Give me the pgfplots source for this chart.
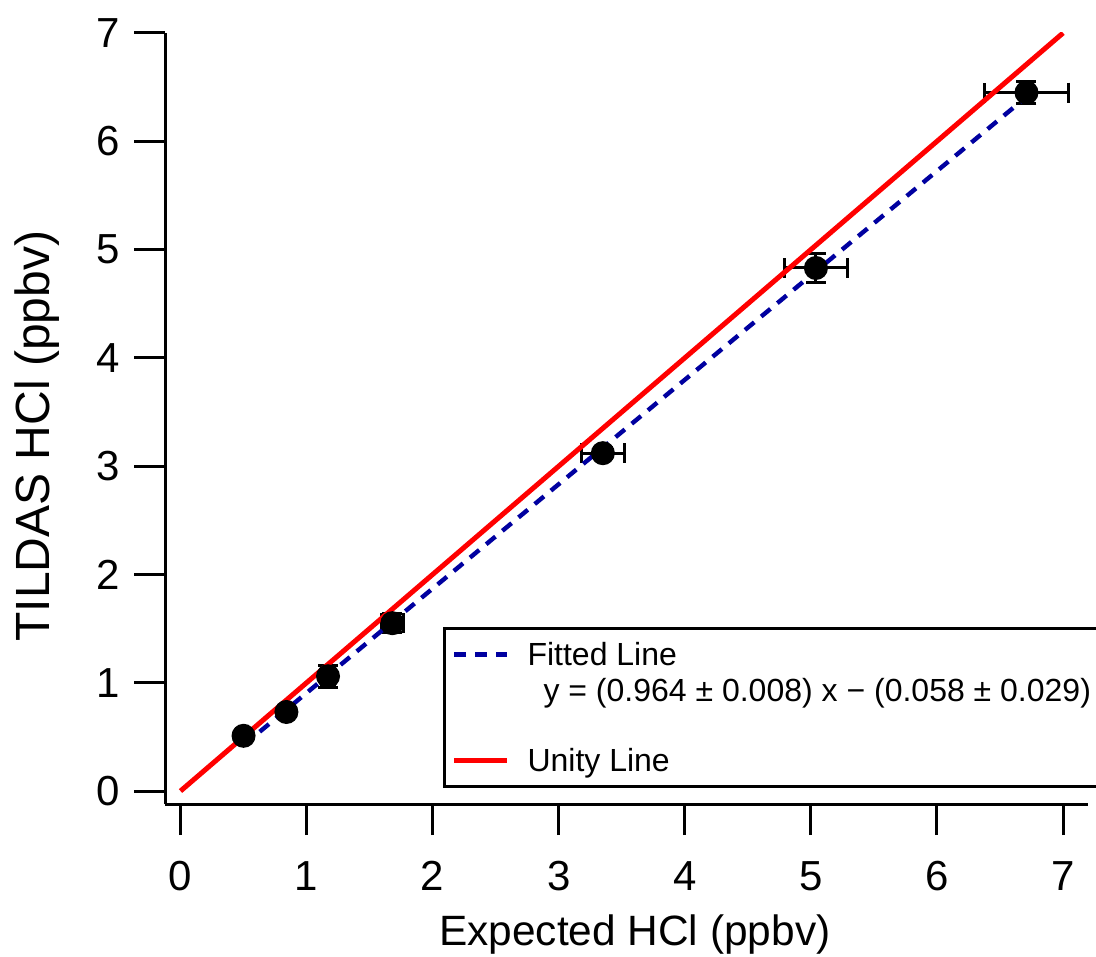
\documentclass[border=0pt]{standalone}
\usepackage{fontspec}
\setmainfont{Liberation Sans}
\usepackage{pgfplots}
\pgfplotsset{compat=1.18}
\definecolor{fitblue}{RGB}{0,0,160}
\definecolor{unityred}{RGB}{255,0,0}

\begin{document}
\begin{tikzpicture}
\begin{axis}[
  scale only axis, width=230.75pt, height=192.75pt,
  xmin=-0.123, xmax=7.198, ymin=-0.12, ymax=7.0,
  axis x line=bottom, axis y line=left,
  axis line style={-, line width=0.75pt, black},
  xtick={0,1,2,3,4,5,6,7}, ytick={0,1,2,3,4,5,6,7},
  minor tick num=0,
  tick align=outside, major tick length=7.75pt,
  tick style={line width=0.75pt, black},
  /pgf/number format/assume math mode=true,
  tick label style={font=\fontsize{10.5}{12.6}\selectfont},
  xticklabel style={yshift=-3pt},
  xlabel={Expected HCl (ppbv)},
  ylabel={TILDAS HCl (ppbv)},
  xlabel style={font=\fontsize{10.6}{12.7}\selectfont, at={(axis description cs:0.509,-0.1829)}, anchor=base},
  ylabel style={font=\fontsize{12}{14.4}\selectfont, at={(axis description cs:-0.1246,0.477)}, anchor=base},
  legend style={at={(rel axis cs:0.3012,0.2296)}, anchor=north west, draw=black, line width=0.75pt,
    inner xsep=1.75pt, inner ysep=2.1pt, row sep=0pt, column sep=4.5pt,
    font=\fontsize{8}{9.6}\selectfont,
    nodes={inner sep=0pt, text height=7.2pt, text depth=1.63pt}},
  legend cell align=left,
  legend image code/.code={\draw[#1] (0pt,0pt) -- (13.25pt,0pt);},
]
\addplot[only marks, mark=*, mark size=2.75pt, black, mark options={fill=black, line width=0.5pt},
  error bars/.cd, x dir=both, x explicit, y dir=both, y explicit,
  error mark=|,
  error bar style={line width=0.75pt, black},
  error mark options={mark size=2.5pt, line width=0.75pt, black}]
  table[x=x, y=y, x error=ex, y error=ey, forget plot] {
x y ex ey
0.50 0.51 0.03 0.03
0.84 0.73 0.04 0.03
1.17 1.06 0.05 0.10
1.68 1.55 0.085 0.09
3.35 3.12 0.17 0.05
5.04 4.83 0.25 0.13
6.71 6.45 0.335 0.10
};
\addplot[fitblue, line width=1.1pt, dash pattern=on 3pt off 2.25pt, forget plot] coordinates {(0.5,0.424) (6.71,6.410)};
\addplot[unityred, line width=1.25pt, forget plot] coordinates {(0,0) (7,7)};

\addlegendimage{fitblue, line width=1.1pt, dash pattern=on 3pt off 2.25pt}
\addlegendentry{Fitted Line}
\addlegendimage{empty legend}
\addlegendentry{\hspace*{4pt}y = (0.964 ± 0.008) x − (0.058 ± 0.029)}
\addlegendimage{empty legend}
\addlegendentry{}
\addlegendimage{unityred, line width=1.25pt}
\addlegendentry{Unity Line}

\coordinate (sw) at (rel axis cs:0,0);
\coordinate (ne) at (rel axis cs:1,1);
\end{axis}
\pgfresetboundingbox
\path[use as bounding box] ([shift={(-41.25pt,-38pt)}]sw) rectangle ([shift={(2pt,8.25pt)}]ne);
\end{tikzpicture}
\end{document}
